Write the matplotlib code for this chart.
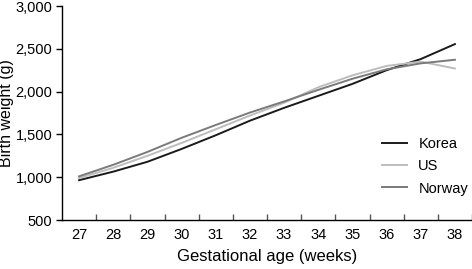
import matplotlib
matplotlib.use('Agg')
from matplotlib import pyplot as plt
from matplotlib.ticker import FixedLocator, FuncFormatter

plt.rcParams['font.family'] = ['Liberation Sans', 'DejaVu Sans']

weeks = [27, 28, 29, 30, 31, 32, 33, 34, 35, 36, 37, 38]
korea = [965, 1065, 1180, 1330, 1490, 1660, 1810, 1950, 2090, 2250, 2380, 2555]
us = [990, 1110, 1250, 1400, 1560, 1720, 1870, 2050, 2190, 2300, 2350, 2270]
norway = [1010, 1145, 1295, 1460, 1610, 1755, 1885, 2020, 2150, 2260, 2330, 2372]
yticks = [500, 1000, 1500, 2000, 2500, 3000]

fig = plt.figure(figsize=(4.72, 2.69), dpi=100)
ax = fig.add_axes([62/472, 1 - 220/269, 410/472, 214/269])

ax.plot(weeks, korea, color='#1a1a1a', lw=1.4, label='Korea')
ax.plot(weeks, us, color='#bdbdbd', lw=1.4, label='US')
ax.plot(weeks, norway, color='#7a7a7a', lw=1.4, label='Norway')

ax.set_xlim(26.5, 38.5)
ax.set_ylim(500, 3000)
ax.spines['top'].set_visible(False)
ax.spines['right'].set_visible(False)
ax.spines['left'].set_linewidth(1.0)
ax.spines['bottom'].set_linewidth(1.0)

ax.set_xticks(weeks)
ax.tick_params(axis='x', which='major', length=0, labelsize=10.5, pad=6)
ax.xaxis.set_minor_locator(FixedLocator([w + 0.5 for w in weeks]))
ax.tick_params(axis='x', which='minor', direction='in', length=4, width=1, color='#555555')

ax.set_yticks(yticks)
ax.yaxis.set_major_formatter(FuncFormatter(lambda v, p: f'{int(v):,}'))
ax.tick_params(axis='y', direction='out', length=4, width=1, labelsize=10.5, pad=3)

ax.set_xlabel('Gestational age (weeks)', fontsize=12)
ax.xaxis.set_label_coords(0.5, -0.135)
ax.set_ylabel('Birth weight (g)', fontsize=11.5)
ax.yaxis.set_label_coords(-0.118, 0.5)

ax.legend(loc='center left', bbox_to_anchor=(0.78, 0.25), frameon=False,
          fontsize=10.5, handlelength=1.7, handletextpad=0.8,
          labelspacing=0.55, borderpad=0, borderaxespad=0)

fig.savefig('out.png', dpi=100)
